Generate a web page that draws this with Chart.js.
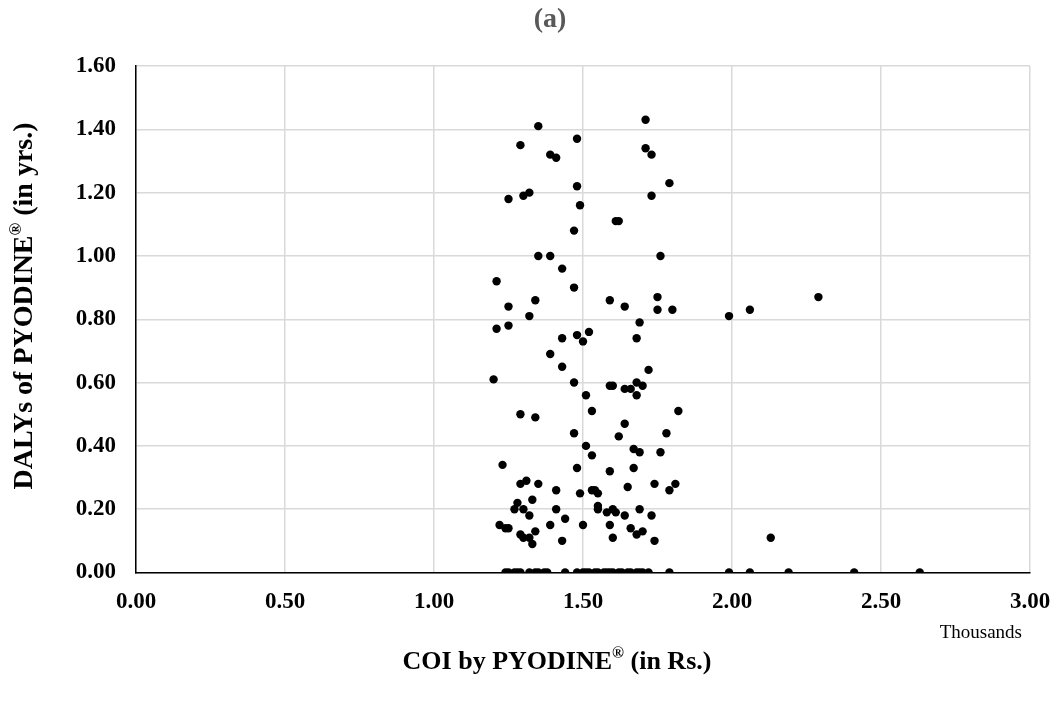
<!DOCTYPE html>
<html>
<head>
<meta charset="utf-8">
<script src="https://cdn.jsdelivr.net/npm/chart.js@4"></script>
<style>
  html, body { margin: 0; padding: 0; background: #fff; }
  canvas { display: block; }
</style>
</head>
<body>
<canvas id="chart" width="1056" height="704"></canvas>
<script>
// COI in thousands of Rs. and DALYs (yrs.) per patient
const coiThousands = [
  1.35, 1.71, 1.48, 1.29, 1.39, 1.41, 1.71, 1.73, 1.48, 1.25,
  1.30, 1.32, 1.73, 1.49, 1.61, 1.62, 1.47, 1.35, 1.39, 1.76,
  1.43, 1.21, 1.47, 1.79, 1.25, 1.34, 1.32, 1.21, 1.25, 1.59,
  1.64, 1.75, 1.75, 1.69, 1.68, 1.43, 1.48, 1.52, 1.50, 1.39,
  1.43, 1.20, 1.47, 1.51, 1.53, 1.59, 1.60, 1.64, 1.66, 1.68,
  1.70, 1.68, 1.72, 1.29, 1.34, 1.47, 1.51, 1.64, 1.62, 1.80,
  1.99, 2.06, 2.29, 1.82, 1.78, 1.76, 1.53, 1.67, 1.69, 1.23,
  1.48, 1.59, 1.67, 1.29, 1.31, 1.35, 1.41, 1.49, 1.53, 1.54,
  1.55, 1.65, 1.74, 1.28, 1.33, 1.27, 1.30, 1.32, 1.41, 1.44,
  1.55, 1.55, 1.58, 1.60, 1.61, 1.64, 1.69, 1.73, 1.22, 1.24,
  1.25, 1.39, 1.50, 1.59, 1.66, 1.68, 1.70, 1.29, 1.30, 1.32,
  1.34, 1.33, 1.43, 1.60, 1.74, 1.81, 1.79, 2.13,
  // zero DALYs
  1.24, 1.25, 1.27, 1.28, 1.29, 1.32, 1.34, 1.35, 1.37, 1.38,
  1.44, 1.48, 1.50, 1.51, 1.52, 1.54, 1.55, 1.57, 1.58, 1.59,
  1.60, 1.62, 1.63, 1.65, 1.66, 1.68, 1.69, 1.70, 1.72, 1.79,
  1.99, 2.06, 2.19, 2.41, 2.63
];

const dalys = [
  1.41, 1.43, 1.37, 1.35, 1.32, 1.31, 1.34, 1.32, 1.22, 1.18,
  1.19, 1.20, 1.19, 1.16, 1.11, 1.11, 1.08, 1.00, 1.00, 1.00,
  0.96, 0.92, 0.90, 1.23, 0.84, 0.86, 0.81, 0.77, 0.78, 0.86,
  0.84, 0.87, 0.83, 0.79, 0.74, 0.74, 0.75, 0.76, 0.73, 0.69,
  0.65, 0.61, 0.60, 0.56, 0.51, 0.59, 0.59, 0.58, 0.58, 0.60,
  0.59, 0.56, 0.64, 0.50, 0.49, 0.44, 0.40, 0.47, 0.43, 0.83,
  0.81, 0.83, 0.87, 0.51, 0.44, 0.38, 0.37, 0.39, 0.38, 0.34,
  0.33, 0.32, 0.33, 0.28, 0.29, 0.28, 0.26, 0.25, 0.26, 0.26,
  0.25, 0.27, 0.28, 0.22, 0.23, 0.20, 0.20, 0.18, 0.20, 0.17,
  0.21, 0.20, 0.19, 0.20, 0.19, 0.18, 0.20, 0.18, 0.15, 0.14,
  0.14, 0.15, 0.15, 0.15, 0.14, 0.12, 0.13, 0.12, 0.11, 0.11,
  0.13, 0.09, 0.10, 0.11, 0.10, 0.28, 0.26, 0.11,
  0, 0, 0, 0, 0, 0, 0, 0, 0, 0,
  0, 0, 0, 0, 0, 0, 0, 0, 0, 0,
  0, 0, 0, 0, 0, 0, 0, 0, 0, 0,
  0, 0, 0, 0, 0
];

const chartTitle = '(a)';
// [text before ®, text after ®]
const xAxisTitle = ['COI by PYODINE', ' (in Rs.)'];
const yAxisTitle = ['DALYs of PYODINE', ' (in yrs.)'];
const xUnitLabel = 'Thousands';

const points = coiThousands.map((x, i) => ({ x: x, y: dalys[i] }));

const FONT = "'Liberation Serif', 'Times New Roman', serif";
const GRID = '#d9d9d9';

// text with a raised, smaller ® between two parts, centred on (0, 0)
const drawRegTitle = (ctx, parts, size) => {
  const big = `bold ${size}px ${FONT}`;
  const small = `bold ${Math.round(size * 0.6)}px ${FONT}`;
  ctx.font = big;
  const w1 = ctx.measureText(parts[0]).width;
  const w3 = ctx.measureText(parts[1]).width;
  ctx.font = small;
  const w2 = ctx.measureText('®').width;
  let x = -(w1 + w2 + w3) / 2;
  ctx.textAlign = 'left';
  ctx.textBaseline = 'middle';
  ctx.font = big;
  ctx.fillText(parts[0], x, 0);
  x += w1;
  ctx.font = small;
  ctx.fillText('®', x, -size * 0.3);
  x += w2;
  ctx.font = big;
  ctx.fillText(parts[1], x, 0);
};

const textPlugin = {
  id: 'texts',
  afterDraw: (chart) => {
    const { ctx, chartArea } = chart;
    ctx.save();
    ctx.fillStyle = '#595959';
    ctx.font = `bold 28px ${FONT}`;
    ctx.textAlign = 'center';
    ctx.textBaseline = 'middle';
    ctx.fillText(chartTitle, 550, 20);

    ctx.fillStyle = '#000';
    ctx.font = `19px ${FONT}`;
    ctx.textAlign = 'right';
    ctx.fillText(xUnitLabel, chartArea.right - 8, 633);

    ctx.save();
    ctx.translate(557, 662);
    drawRegTitle(ctx, xAxisTitle, 26);
    ctx.restore();

    ctx.save();
    ctx.translate(25, 306);
    ctx.rotate(-Math.PI / 2);
    drawRegTitle(ctx, yAxisTitle, 28);
    ctx.restore();
    ctx.restore();
  }
};

new Chart(document.getElementById('chart'), {
  type: 'scatter',
  data: {
    datasets: [{
      data: points,
      backgroundColor: '#000',
      borderColor: '#000',
      pointRadius: 4.2,
      pointHoverRadius: 4.2,
      borderWidth: 0,
    }],
  },
  options: {
    responsive: false,
    animation: false,
    layout: { padding: { left: 0, right: 26, top: 66, bottom: 0 } },
    plugins: {
      legend: { display: false },
      tooltip: { enabled: false },
      title: { display: false },
    },
    scales: {
      x: {
        type: 'linear',
        min: 0,
        max: 3,
        afterFit: (scale) => {
          scale.height = 131.5;
          scale.paddingLeft = 0;
          scale.paddingRight = 0;
        },
        grid: { color: GRID, lineWidth: 1.5, drawTicks: false },
        border: { color: '#000', width: 1.5 },
        ticks: {
          stepSize: 0.5,
          padding: 16,
          color: '#000',
          font: { family: FONT, size: 23, weight: 'bold' },
          callback: (value) => value.toFixed(2),
        },
      },
      y: {
        type: 'linear',
        min: 0,
        max: 1.6,
        afterFit: (scale) => {
          scale.width = 136;
          scale.paddingTop = 0;
          scale.paddingBottom = 0;
        },
        grid: { color: GRID, lineWidth: 1.5, drawTicks: false },
        border: { color: '#000', width: 1.5 },
        ticks: {
          stepSize: 0.2,
          padding: 20,
          color: '#000',
          font: { family: FONT, size: 23, weight: 'bold' },
          callback: (value) => value.toFixed(2),
        },
      },
    },
  },
  plugins: [textPlugin],
});
</script>
</body>
</html>
